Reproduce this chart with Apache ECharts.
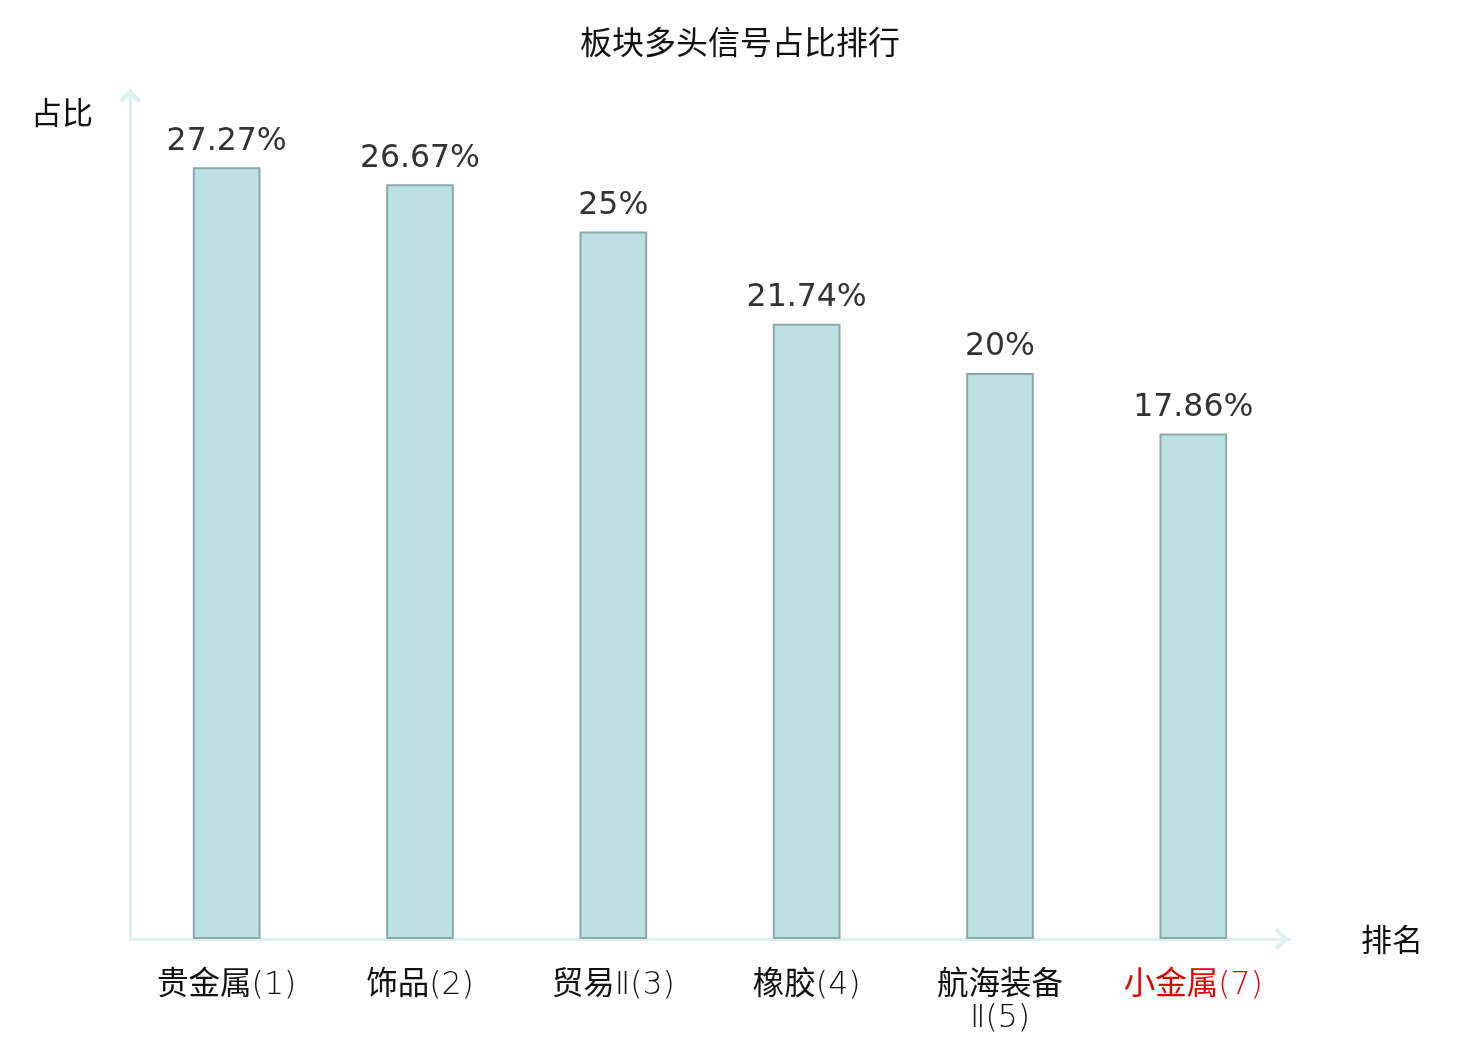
<!DOCTYPE html>
<html><head><meta charset="utf-8">
<script src="https://cdn.jsdelivr.net/npm/echarts@6/dist/echarts.min.js"></script>
<style>html,body{margin:0;padding:0;background:#fff}#c{width:1480px;height:1040px}</style>
</head><body><div id="c"></div>
<script>
const titleText = '板块多头信号占比排行';
const categories = ['贵金属(1)', '饰品(2)', '贸易Ⅱ(3)', '橡胶(4)', '航海装备\nⅡ(5)', '小金属(7)'];
const values = [27.27, 26.67, 25, 21.74, 20, 17.86];
const highlightIndex = 5;

const FONT = '"DejaVu Sans", "Noto Sans CJK SC", sans-serif';
const LIGHT = '"DejaVu Sans Light", "Noto Sans CJK SC", sans-serif';
const CJK = '"Noto Sans CJK SC", "DejaVu Sans", sans-serif';
const chart = echarts.init(document.getElementById('c'));
const chevron = 'path://M11,0 L22,11 L19,14 L11,6 L3,14 L0,11 Z';
chart.setOption({
  animation: false,
  textStyle: { fontFamily: FONT },
  title: { text: titleText, left: 'center', top: 21, textStyle: { fontFamily: CJK, fontSize: 32, fontWeight: 'normal', color: '#111' } },
  grid: { left: 130, right: 190, top: 90, bottom: 101, containLabel: false },
  xAxis: {
    type: 'category', data: categories, name: '排名', nameGap: 71,
    nameTextStyle: { fontFamily: CJK, fontSize: 31, color: '#111', verticalAlign: 'middle', padding: [6, 0, 0, 0] },
    axisLine: { lineStyle: { color: '#dcf1ee', width: 3 }, symbol: ['none', chevron], symbolSize: [22, 16], symbolOffset: [0, -8] },
    axisTick: { show: false },
    axisLabel: {
      fontFamily: LIGHT, fontSize: 31.5, margin: 30, lineHeight: 33, interval: 0,
      color: function (v, i) { return i === highlightIndex ? '#e60000' : '#111'; }
    }
  },
  yAxis: {
    type: 'value', min: 0, max: 30, name: '占比', nameLocation: 'end', nameGap: -22,
    nameTextStyle: { fontFamily: CJK, fontSize: 31, color: '#111', align: 'right', verticalAlign: 'middle', padding: [0, 37, 0, 0] },
    axisLine: { show: true, lineStyle: { color: '#dcf1ee', width: 3 }, symbol: ['none', chevron], symbolSize: [22, 16], symbolOffset: [0, -6] },
    axisTick: { show: false }, axisLabel: { show: false }, splitLine: { show: false }
  },
  series: [{
    type: 'bar', data: values, barWidth: '35%',
    itemStyle: { color: '#bde0e3', borderColor: '#8aa8a8', borderWidth: 2 },
    label: { show: true, position: 'top', distance: 10, fontFamily: FONT, fontSize: 31.5, color: '#333', formatter: function (p) { return p.value + '%'; } }
  }]
});
</script></body></html>
